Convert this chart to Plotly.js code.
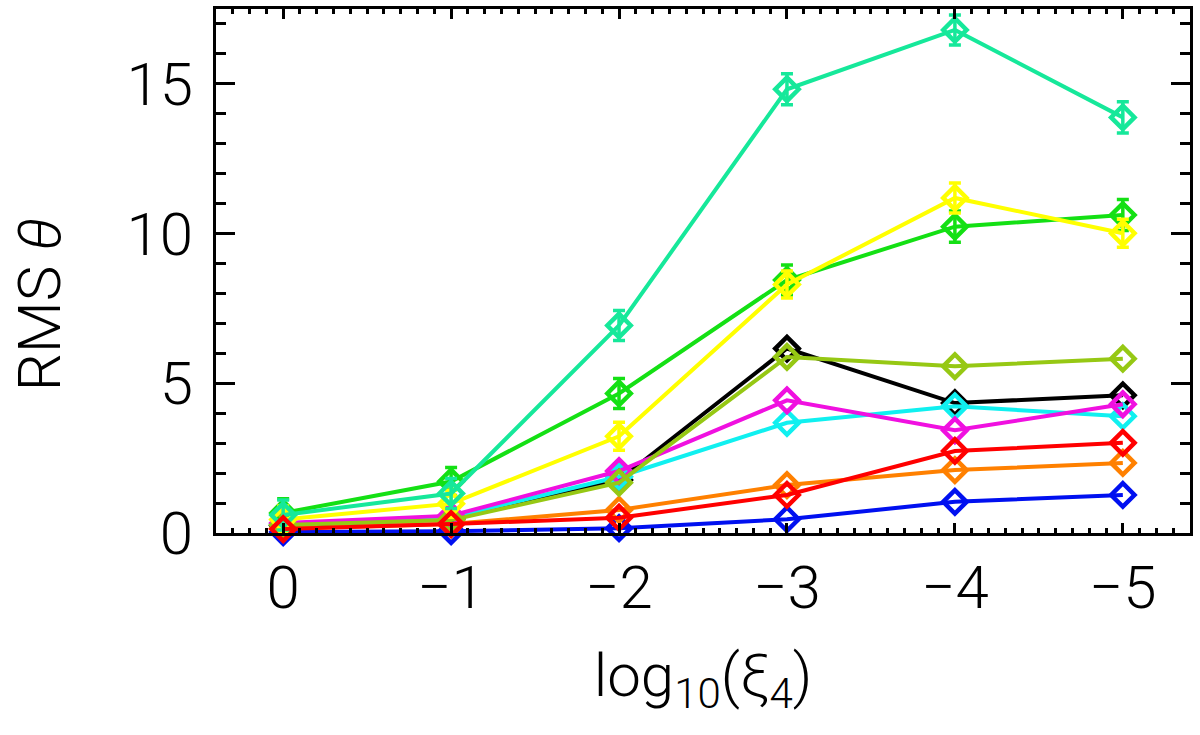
<!DOCTYPE html>
<html>
<head>
<meta charset="utf-8">
<script src="https://cdn.plot.ly/plotly-3.0.1.min.js"></script>
<style>
  html, body { margin: 0; padding: 0; background: #fff; }
  #chart { width: 1200px; height: 735px; }
</style>
</head>
<body>
<div id="chart"></div>
<script>
// log10(xi_4) positions shared by every run
const LOG_XI = [0, -1, -2, -3, -4, -5];

// RMS theta per run
const RMS_TEAL   = [0.60, 1.32, 6.93, 14.82, 16.80, 13.88];
const ERR_TEAL   = [0.50, 0.50, 0.50, 0.52, 0.50, 0.52];
const RMS_GREEN  = [0.67, 1.72, 4.66, 8.45, 10.23, 10.62];
const ERR_GREEN  = [0.47, 0.47, 0.50, 0.50, 0.52, 0.52];
const RMS_YELLOW = [0.45, 0.98, 3.23, 8.30, 11.19, 10.01];
const ERR_YELLOW = [0.45, 0.45, 0.47, 0.45, 0.50, 0.47];
const RMS_BLACK  = [0.25, 0.47, 1.77, 6.16, 4.34, 4.60];
const RMS_OLIVE  = [0.27, 0.43, 1.68, 5.88, 5.57, 5.82];
const RMS_PINK   = [0.33, 0.58, 2.07, 4.43, 3.43, 4.30];
const RMS_CYAN   = [0.30, 0.52, 1.88, 3.68, 4.23, 3.90];
const RMS_ORANGE = [0.15, 0.30, 0.77, 1.60, 2.10, 2.34];
const RMS_RED    = [0.13, 0.30, 0.51, 1.27, 2.74, 3.01];
const RMS_BLUE   = [0.03, 0.06, 0.16, 0.46, 1.04, 1.27];

const FONT = { family: 'Roboto, "DejaVu Sans", sans-serif', size: 60, color: '#000', weight: 300 };

// ── one trace per run, drawn bottom → top ─────────────────────────────
function run(y, color, err) {
  const t = {
    x: LOG_XI,
    y: y,
    type: 'scatter',
    mode: 'lines+markers',
    line: { color: color, width: 4 },
    marker: { symbol: 'diamond-open', size: 18, color: color, line: { color: color, width: 4.5 } },
    hoverinfo: 'none',
    cliponaxis: false,
  };
  if (err) {
    t.error_y = { type: 'data', array: err, visible: true, color: color, thickness: 3.5, width: 6 };
  }
  return t;
}

const traces = [
  run(RMS_BLACK,  '#000000'),
  run(RMS_BLUE,   '#0010f0'),
  run(RMS_ORANGE, '#ff8000'),
  run(RMS_CYAN,   '#10f0f0'),
  run(RMS_PINK,   '#f010e0'),
  run(RMS_OLIVE,  '#96c814'),
  run(RMS_GREEN,  '#14e014', ERR_GREEN),
  run(RMS_YELLOW, '#ffff00', ERR_YELLOW),
  run(RMS_TEAL,   '#16e89a', ERR_TEAL),
  run(RMS_RED,    '#ff0000'),
];

const axisCommon = {
  showline: true,
  linecolor: '#000',
  linewidth: 3,
  mirror: 'ticks',
  ticks: 'inside',
  tickcolor: '#000',
  tickwidth: 3,
  showgrid: false,
  zeroline: false,
  tickfont: FONT,
};

const layout = {
  width: 1200,
  height: 735,
  paper_bgcolor: '#fff',
  plot_bgcolor: '#fff',
  showlegend: false,
  margin: { l: 216, r: 10, t: 9, b: 202, pad: 0 },
  xaxis: Object.assign({}, axisCommon, {
    range: [0.4, -5.4],
    tick0: 0,
    dtick: 1,
    ticklen: 10,
    minor: { dtick: 0.1, ticklen: 5, tickwidth: 3, tickcolor: '#000', ticks: 'inside' },
    title: { text: 'log<sub>10</sub>(ξ<sub>4</sub>)', font: FONT, standoff: 32 },
  }),
  yaxis: Object.assign({}, axisCommon, {
    range: [0, 17.5],
    tick0: 0,
    dtick: 5,
    ticklen: 19,
    minor: { dtick: 1, ticklen: 10, tickwidth: 3, tickcolor: '#000', ticks: 'inside' },
    ticklabelstandoff: 8,
  }),
  annotations: [{
    text: 'RMS <i>θ</i>',
    xref: 'paper', yref: 'paper',
    x: -0.181, y: 0.436,
    xanchor: 'center', yanchor: 'middle',
    textangle: -90,
    showarrow: false,
    font: FONT,
  }],
};

Plotly.newPlot('chart', traces, layout, { displayModeBar: false, staticPlot: true });
</script>
</body>
</html>
